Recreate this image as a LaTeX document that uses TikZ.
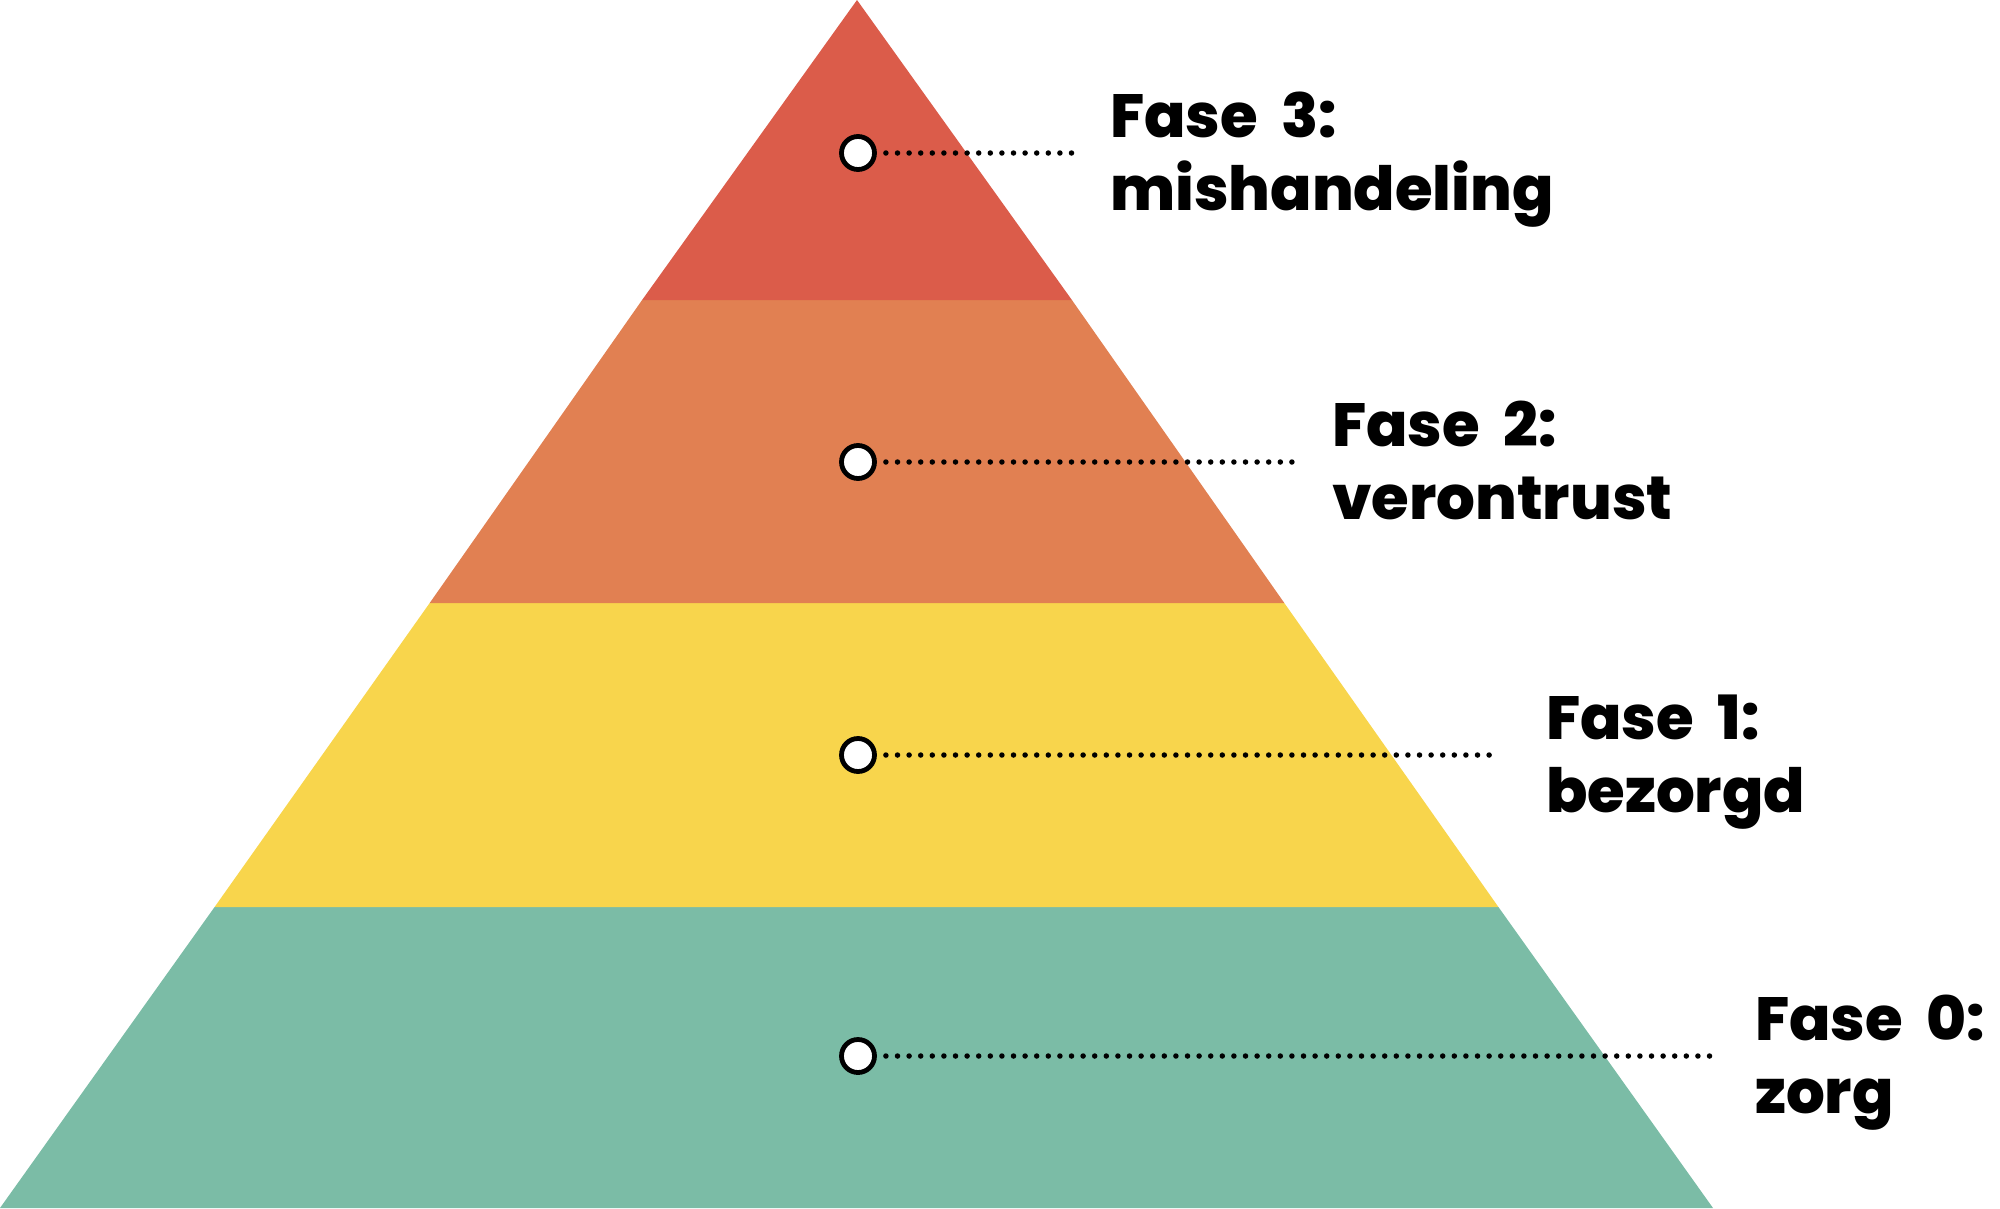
\documentclass[tikz,border=0pt]{standalone}
\usepackage{fontspec}
\setmainfont{Poppins}[BoldFont={Poppins ExtraBold}]
\definecolor{cred}{RGB}{219,92,74}
\definecolor{corange}{RGB}{225,128,82}
\definecolor{cyellow}{RGB}{248,213,76}
\definecolor{cgreen}{RGB}{123,188,166}
\begin{document}
\begin{tikzpicture}[x=1pt,y=-1pt,
  dotnode/.style={circle,draw=black,line width=4.8pt,fill=white,minimum size=33pt,inner sep=0pt},
  leader/.style={line width=5.5pt,line cap=round,dash pattern=on 0pt off 11.6pt},
  lbl/.style={anchor=base west,inner sep=0pt,font=\fontsize{61}{71}\selectfont\bfseries}]
\useasboundingbox (0,0) rectangle (2000,1208);
% bands
\fill[cgreen]  (0,1208) -- (1713,1208) -- (1498.4,907) -- (214.6,907) -- cycle;
\fill[cyellow] (214.6,907) -- (1498.4,907) -- (1284.3,603) -- (429.7,603) -- cycle;
\fill[corange] (429.7,603) -- (1284.3,603) -- (1071.9,300) -- (642.1,300) -- cycle;
\fill[cred]    (642.1,300) -- (1071.9,300) -- (857,0) -- cycle;
% markers
\node[dotnode] (c3) at (858,153) {};
\node[dotnode] (c2) at (858,462) {};
\node[dotnode] (c1) at (858,755) {};
\node[dotnode] (c0) at (858,1056) {};
\coordinate (e3) at (1073,153);
\coordinate (e2) at (1297,462);
\coordinate (e1) at (1500,755);
\coordinate (e0) at (1713,1056);
\draw[leader] ([xshift=9pt]c3.east) -- (e3);
\draw[leader] ([xshift=9pt]c2.east) -- (e2);
\draw[leader] ([xshift=9pt]c1.east) -- (e1);
\draw[leader] ([xshift=9pt]c0.east) -- (e0);
% labels
\node[lbl] (t3a) at (1110,137) {Fase\ \ 3:};
\node[lbl] (t3b) at (1110,210) {mishandeling};
\node[lbl] (t2a) at (1332,446) {Fase\ \ 2:};
\node[lbl] (t2b) at (1332,519) {verontrust};
\node[lbl] (t1a) at (1546,739) {Fase\ \ 1:};
\node[lbl] (t1b) at (1546,812) {bezorgd};
\node[lbl] (t0a) at (1755,1040) {Fase\ \ 0:};
\node[lbl] (t0b) at (1755,1113) {zorg};
\end{tikzpicture}
\end{document}
